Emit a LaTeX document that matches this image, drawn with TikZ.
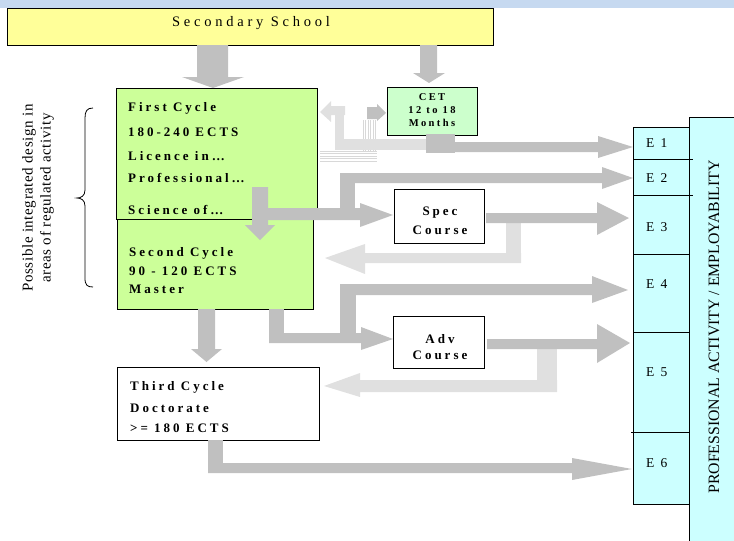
\documentclass[tikz,border=0pt]{standalone}
\usepackage{fontspec}
\setmainfont{Liberation Serif}
\newfontfamily\spacedbold[LetterSpace=23]{Liberation Serif}
\newfontfamily\spacedreg[LetterSpace=26]{Liberation Serif}
\newfontfamily\sidefont[LetterSpace=4]{Liberation Serif}
\definecolor{bandblue}{HTML}{C6D9F0}
\definecolor{yellowbox}{HTML}{FFFF99}
\definecolor{limebox}{HTML}{CCFF99}
\definecolor{mintbox}{HTML}{CCFFCC}
\definecolor{cyanbox}{HTML}{CCFFFF}
\definecolor{arrdark}{HTML}{C0C0C0}
\definecolor{arrlight}{HTML}{E0E0E0}
\definecolor{stripegray}{HTML}{D8D8D8}
\begin{document}
\begin{tikzpicture}[x=1pt,y=-1pt,
  box/.style={draw=black, line width=0.8pt, inner sep=0pt, anchor=north west},
  darr/.style={fill=arrdark},
  larr/.style={fill=arrlight},
  stripe/.style={draw=stripegray, line width=0.9pt},
  btxt/.style={font=\spacedbold\bfseries\fontsize{13}{15}\selectfont, anchor=west, inner sep=0pt},
  ctxt/.style={font=\spacedbold\bfseries\fontsize{13}{15}\selectfont, inner sep=0pt},
  smalltxt/.style={font=\spacedbold\bfseries\fontsize{10.5}{12}\selectfont, inner sep=0pt},
  etxt/.style={font=\fontsize{13.5}{15}\selectfont, anchor=west, inner sep=0pt},
  sidetxt/.style={font=\sidefont\fontsize{15}{17}\selectfont, rotate=90, inner sep=0pt},
  proftxt/.style={font=\fontsize{15.8}{18}\selectfont, rotate=90, inner sep=0pt}]
\useasboundingbox (0,0) rectangle (734,541);
\fill[bandblue] (0,0) rectangle (734,8);

% boxes
\node[box, fill=yellowbox, minimum width=486, minimum height=37, line width=1.1pt] (sec) at (7,8) {};
\node[box, fill=limebox, minimum width=201, minimum height=131] (first) at (116,88) {};
\node[box, fill=limebox, minimum width=196, minimum height=90] (second) at (117,219) {};
\node[box, fill=mintbox, minimum width=90, minimum height=48] (cet) at (387,87) {};
\node[box, fill=white, minimum width=90, minimum height=54] (spec) at (394,189) {};
\node[box, fill=white, minimum width=91, minimum height=52] (adv) at (393,316) {};
\node[box, fill=white, minimum width=202, minimum height=73] (third) at (117,367) {};
\node[box, fill=cyanbox, minimum width=50, minimum height=440] (prof) at (689,117) {};
\node[box, fill=cyanbox, minimum width=56, minimum height=32] (e1) at (633,127) {};
\node[box, fill=cyanbox, minimum width=56, minimum height=36] (e2) at (633,159) {};
\node[box, fill=cyanbox, minimum width=56, minimum height=59] (e3) at (633,195) {};
\node[box, fill=cyanbox, minimum width=56, minimum height=78] (e4) at (633,254) {};
\node[box, fill=cyanbox, minimum width=56, minimum height=100] (e5) at (633,332) {};
\node[box, fill=cyanbox, minimum width=56, minimum height=72] (e6) at (633,432) {};
\draw[line width=0.8pt] (e1.south east) -- ++(3,0);
\draw[line width=0.8pt] (e2.south east) -- ++(3,0);
\draw[line width=0.8pt] (e5.south west) -- ++(-2,0);

% faded stripes near CET
\foreach \xx in {363,365.5,...,377.5} \draw[stripe] (\xx,120) -- (\xx,151);
\foreach \yy in {151,153.5,...,162} \draw[stripe] (320,\yy) -- (377,\yy);

% light arrows
\fill[larr] (331,101) -- (320,112) -- (331,122) -- (331,115) -- (345,115) -- (345,106) -- (331,106) -- cycle;
\fill[larr] (335,106) rectangle (344,150);
\fill[larr] (335,139) rectangle (427,150);
\fill[larr] (506,223) rectangle (521,263);
\fill[larr] (521,263) -- (521,253) -- (365,253) -- (365,244) -- (325,258) -- (365,274) -- (365,263) -- cycle;
\fill[larr] (537,349) rectangle (557,392);
\fill[larr] (557,392) -- (557,380) -- (360,380) -- (360,373) -- (324,386) -- (360,397) -- (360,392) -- cycle;

% dark arrows
\fill[darr] (197,45) -- (228,45) -- (228,77) -- (244,77) -- (213,88) -- (182,77) -- (197,77) -- cycle;
\fill[darr] (420,45) -- (437,45) -- (437,73) -- (445,73) -- (429,83) -- (413,73) -- (420,73) -- cycle;
\fill[darr] (367,107) -- (377,107) -- (377,104) -- (386,113) -- (377,121) -- (377,119) -- (367,119) -- cycle;
\fill[darr] (426,134) rectangle (455,153);
\fill[darr] (455,142) -- (598,142) -- (598,136) -- (633,147) -- (598,158) -- (598,152) -- (455,152) -- cycle;
\fill[darr] (252,187) -- (268,187) -- (268,225) -- (275,225) -- (260,240) -- (245,225) -- (252,225) -- cycle;
\fill[darr] (262,208) -- (360,208) -- (360,203) -- (393,215) -- (360,227) -- (360,220) -- (262,220) -- cycle;
\fill[darr] (340,173) rectangle (355,214);
\fill[darr] (340,173) -- (602,173) -- (602,167) -- (633,178) -- (602,189) -- (602,183) -- (340,183) -- cycle;
\fill[darr] (486,213) -- (597,213) -- (597,202) -- (629,218) -- (597,235) -- (597,223) -- (486,223) -- cycle;
\fill[darr] (198,309) -- (215,309) -- (215,349) -- (222,349) -- (206.5,362) -- (191,349) -- (198,349) -- cycle;
\fill[darr] (269,309) rectangle (284,343);
\fill[darr] (269,333) -- (361,333) -- (361,327) -- (393,339) -- (361,350) -- (361,343) -- (269,343) -- cycle;
\fill[darr] (340,284) rectangle (356,338);
\fill[darr] (340,284) -- (592,284) -- (592,276) -- (628,290) -- (592,303) -- (592,295) -- (340,295) -- cycle;
\fill[darr] (487,339) -- (597,339) -- (597,324) -- (630,343) -- (597,363) -- (597,349) -- (487,349) -- cycle;
\fill[darr] (208,440) rectangle (223,473);
\fill[darr] (208,463) -- (572,463) -- (572,458) -- (632,469) -- (572,480) -- (572,473) -- (208,473) -- cycle;

% texts
\node[font=\spacedreg\fontsize{14.5}{16}\selectfont, inner sep=0pt] (sectxt) at (251,23) {Secondary School};
\node[btxt] (f1) at (128,108) {First Cycle};
\node[btxt] (f2) at (128,132) {180-240\hspace{6pt}ECTS};
\node[btxt] (f3) at (128,156) {Licence in…};
\node[btxt] (f4) at (128,178) {Professional…};
\node[btxt] (f5) at (128,210) {Science of…};
\node[btxt] (s1) at (129,253) {Second Cycle};
\node[btxt] (s2) at (129,271) {90 - 120 ECTS};
\node[btxt] (s3) at (129,289) {Master};
\node[btxt] (t1) at (130,387) {Third Cycle};
\node[btxt] (t2) at (130,408) {Doctorate};
\node[btxt] (t3) at (130,428) {>= 180 ECTS};
\node[smalltxt] (c1) at (432,97) {CET};
\node[smalltxt] (c2) at (432,110) {12 to 18};
\node[smalltxt] (c3) at (432,123) {Months};
\node[ctxt] (sp1) at (440,213) {Spec};
\node[ctxt] (sp2) at (440,230) {Course};
\node[ctxt] (ad1) at (440,339) {Adv};
\node[ctxt] (ad2) at (440,355) {Course};
\node[etxt] (l1) at (646,143) {E\hspace{0.45em}1};
\node[etxt] (l2) at (646,178) {E\hspace{0.45em}2};
\node[etxt] (l3) at (646,227) {E\hspace{0.45em}3};
\node[etxt] (l4) at (646,284) {E\hspace{0.45em}4};
\node[etxt] (l5) at (646,372) {E\hspace{0.45em}5};
\node[etxt] (l6) at (646,463) {E\hspace{0.45em}6};
\node[proftxt] (proftext) at (714,327) {PROFESSIONAL ACTIVITY / EMPLOYABILITY};
\node[sidetxt] (side1) at (29,198) {Possible integrated design in};
\node[sidetxt] (side2) at (47,198) {areas of regulated activity};

% brace
\draw[line width=0.8pt] (93,108) .. controls (87,108) and (85,111) .. (85,118) -- (85,190)
  .. controls (85,196) and (81,198) .. (77,198) .. controls (81,198) and (85,200) .. (85,206)
  -- (85,278) .. controls (85,285) and (87,287) .. (93,287);
\end{tikzpicture}
\end{document}
